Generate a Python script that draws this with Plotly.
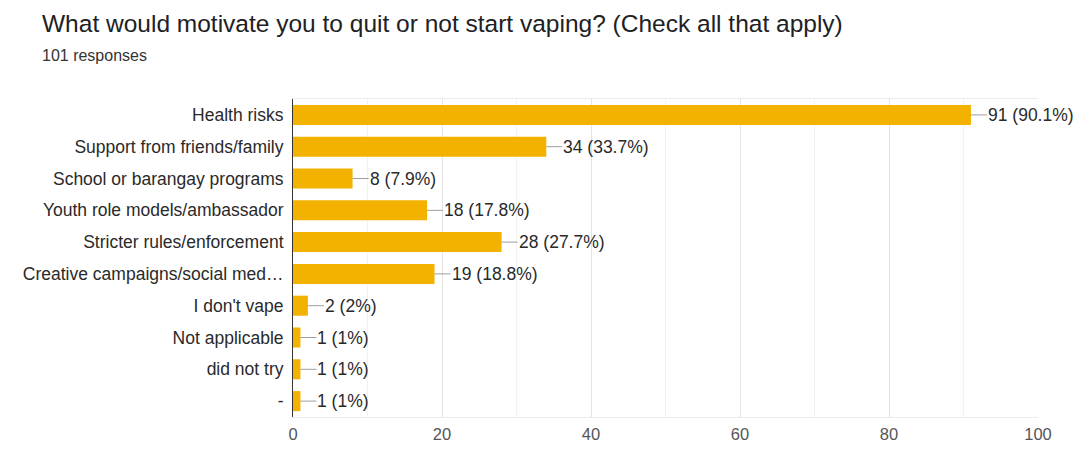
import plotly.graph_objects as go

title = "What would motivate you to quit or not start vaping? (Check all that apply)"
subtitle = "101 responses"
categories = [
    "Health risks",
    "Support from friends/family",
    "School or barangay programs",
    "Youth role models/ambassador",
    "Stricter rules/enforcement",
    "Creative campaigns/social med\u2026",
    "I don't vape",
    "Not applicable",
    "did not try",
    "-",
]
counts = [91, 34, 8, 18, 28, 19, 2, 1, 1, 1]
pct_labels = ["90.1%", "33.7%", "7.9%", "17.8%", "27.7%", "18.8%", "2%", "1%", "1%", "1%"]
x_ticks = [0, 20, 40, 60, 80, 100]

BAR = "#F3B200"
FONT = "Liberation Sans, Arial, sans-serif"

W, H = 1083, 449
ML, MR, MT, MB = 293, 45, 99, 32
PH = H - MT - MB
PW = W - ML - MR

fig = go.Figure()
fig.add_trace(go.Bar(
    x=counts, y=categories, orientation="h",
    marker=dict(color=BAR, line=dict(width=0)),
    hoverinfo="skip",
))

for c, v, p in zip(categories, counts, pct_labels):
    fig.add_annotation(
        x=v, y=c, xref="x", yref="y",
        text=f"{v} ({p})",
        showarrow=True, arrowhead=0, arrowwidth=1, arrowcolor="#9e9e9e",
        ax=16, ay=0, axref="pixel", ayref="pixel",
        xanchor="left", yanchor="middle",
        standoff=0, startstandoff=0, borderpad=0,
        font=dict(family=FONT, size=17.5, color="#2a2a2a"),
    )

def px_to_paper_x(px):
    return (px - ML) / PW

def px_to_paper_y(py):
    return 1 + (MT - py) / PH

fig.add_annotation(
    x=px_to_paper_x(40), y=px_to_paper_y(23), xref="paper", yref="paper",
    xanchor="left", yanchor="middle", text=title, showarrow=False,
    font=dict(family=FONT, size=24.5, color="#202124"),
)
fig.add_annotation(
    x=px_to_paper_x(40), y=px_to_paper_y(55), xref="paper", yref="paper",
    xanchor="left", yanchor="middle", text=subtitle, showarrow=False,
    font=dict(family=FONT, size=16, color="#333333"),
)

fig.update_layout(
    width=W, height=H,
    margin=dict(l=ML, r=MR, t=MT, b=MB, autoexpand=False),
    paper_bgcolor="white", plot_bgcolor="white",
    showlegend=False, bargap=0.37,
    font=dict(family=FONT, size=18, color="#222222"),
)

fig.update_xaxes(
    range=[0, 100], tickvals=x_ticks, showgrid=True, gridcolor="#e4e4e4", gridwidth=1,
    minor=dict(dtick=10, tick0=0, showgrid=True, gridcolor="#f2f2f2", gridwidth=1),
    showline=True, mirror=True, linecolor="#ececec", linewidth=1,
    zeroline=False, ticks="", ticklabelstandoff=2, automargin=False,
    tickfont=dict(family=FONT, size=16.5, color="#555555"), fixedrange=True,
)
fig.update_yaxes(
    categoryorder="array", categoryarray=categories, autorange="reversed",
    showline=True, linecolor="#333333", linewidth=1, showgrid=False, ticks="",
    ticklabelstandoff=5, automargin=False,
    tickfont=dict(family=FONT, size=17.5, color="#2a2a2a"), fixedrange=True,
)

fig.write_html("out.html")
